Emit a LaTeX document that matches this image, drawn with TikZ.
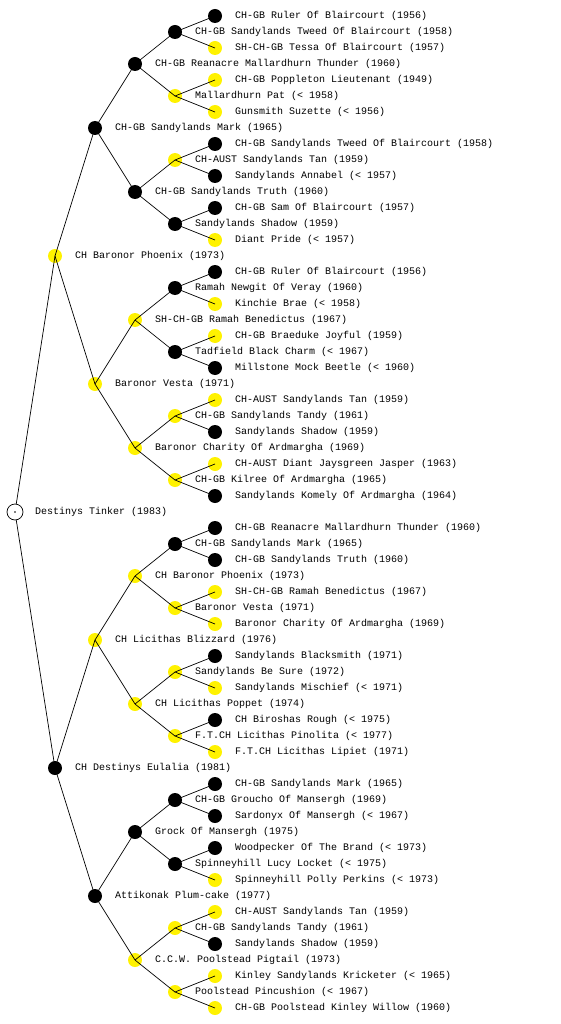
\documentclass[tikz,border=0pt]{standalone}
\usepackage{fontspec}
\newfontfamily\pedfont{Liberation Mono}
\tikzset{
  dot/.style={circle, inner sep=0pt, outer sep=0pt, minimum size=14pt},
  ydot/.style={dot, fill=yellow},
  bdot/.style={dot, fill=black},
  rootdot/.style={dot, draw, fill=white, minimum size=16pt, line width=0.7pt},
  pedtext/.style={anchor=west, inner sep=0pt, font=\pedfont\fontsize{10}{12}\selectfont},
  edge/.style={line width=0.7pt},
}
\begin{document}
\begin{tikzpicture}[x=1pt, y=-1pt]
\useasboundingbox (0,0) rectangle (560,1024);

% root
\node[rootdot] (r) at (15,512) {};
\fill (r.center) circle (0.8pt);
\node[pedtext] (tr) at ([xshift=20pt]r.center) {Destinys Tinker (1983)};

% parents
\foreach \s/\t [count=\i from 0] in {
  ydot/{CH Baronor Phoenix (1973)},
  bdot/{CH Destinys Eulalia (1981)}}{
  \node[\s] (a\i) at (55,{256+512*\i}) {};
  \node[pedtext] (ta\i) at ([xshift=20pt]a\i.center) {\t};
}

% grandparents
\foreach \s/\t [count=\i from 0] in {
  bdot/{CH-GB Sandylands Mark (1965)},
  ydot/{Baronor Vesta (1971)},
  ydot/{CH Licithas Blizzard (1976)},
  bdot/{Attikonak Plum-cake (1977)}}{
  \node[\s] (b\i) at (95,{128+256*\i}) {};
  \node[pedtext] (tb\i) at ([xshift=20pt]b\i.center) {\t};
}

% great-grandparents
\foreach \s/\t [count=\i from 0] in {
  bdot/{CH-GB Reanacre Mallardhurn Thunder (1960)},
  bdot/{CH-GB Sandylands Truth (1960)},
  ydot/{SH-CH-GB Ramah Benedictus (1967)},
  ydot/{Baronor Charity Of Ardmargha (1969)},
  ydot/{CH Baronor Phoenix (1973)},
  ydot/{CH Licithas Poppet (1974)},
  bdot/{Grock Of Mansergh (1975)},
  ydot/{C.C.W. Poolstead Pigtail (1973)}}{
  \node[\s] (c\i) at (135,{64+128*\i}) {};
  \node[pedtext] (tc\i) at ([xshift=20pt]c\i.center) {\t};
}

% generation 4
\foreach \s/\t [count=\i from 0] in {
  bdot/{CH-GB Sandylands Tweed Of Blaircourt (1958)},
  ydot/{Mallardhurn Pat (< 1958)},
  ydot/{CH-AUST Sandylands Tan (1959)},
  bdot/{Sandylands Shadow (1959)},
  bdot/{Ramah Newgit Of Veray (1960)},
  bdot/{Tadfield Black Charm (< 1967)},
  ydot/{CH-GB Sandylands Tandy (1961)},
  ydot/{CH-GB Kilree Of Ardmargha (1965)},
  bdot/{CH-GB Sandylands Mark (1965)},
  ydot/{Baronor Vesta (1971)},
  ydot/{Sandylands Be Sure (1972)},
  ydot/{F.T.CH Licithas Pinolita (< 1977)},
  bdot/{CH-GB Groucho Of Mansergh (1969)},
  bdot/{Spinneyhill Lucy Locket (< 1975)},
  ydot/{CH-GB Sandylands Tandy (1961)},
  ydot/{Poolstead Pincushion (< 1967)}}{
  \node[\s] (d\i) at (175,{32+64*\i}) {};
  \node[pedtext] (td\i) at ([xshift=20pt]d\i.center) {\t};
}

% generation 5
\foreach \s/\t [count=\i from 0] in {
  bdot/{CH-GB Ruler Of Blaircourt (1956)},
  ydot/{SH-CH-GB Tessa Of Blaircourt (1957)},
  ydot/{CH-GB Poppleton Lieutenant (1949)},
  ydot/{Gunsmith Suzette (< 1956)},
  bdot/{CH-GB Sandylands Tweed Of Blaircourt (1958)},
  bdot/{Sandylands Annabel (< 1957)},
  bdot/{CH-GB Sam Of Blaircourt (1957)},
  ydot/{Diant Pride (< 1957)},
  bdot/{CH-GB Ruler Of Blaircourt (1956)},
  ydot/{Kinchie Brae (< 1958)},
  ydot/{CH-GB Braeduke Joyful (1959)},
  bdot/{Millstone Mock Beetle (< 1960)},
  ydot/{CH-AUST Sandylands Tan (1959)},
  bdot/{Sandylands Shadow (1959)},
  ydot/{CH-AUST Diant Jaysgreen Jasper (1963)},
  bdot/{Sandylands Komely Of Ardmargha (1964)},
  bdot/{CH-GB Reanacre Mallardhurn Thunder (1960)},
  bdot/{CH-GB Sandylands Truth (1960)},
  ydot/{SH-CH-GB Ramah Benedictus (1967)},
  ydot/{Baronor Charity Of Ardmargha (1969)},
  bdot/{Sandylands Blacksmith (1971)},
  ydot/{Sandylands Mischief (< 1971)},
  bdot/{CH Biroshas Rough (< 1975)},
  ydot/{F.T.CH Licithas Lipiet (1971)},
  bdot/{CH-GB Sandylands Mark (1965)},
  bdot/{Sardonyx Of Mansergh (< 1967)},
  bdot/{Woodpecker Of The Brand (< 1973)},
  ydot/{Spinneyhill Polly Perkins (< 1973)},
  ydot/{CH-AUST Sandylands Tan (1959)},
  bdot/{Sandylands Shadow (1959)},
  ydot/{Kinley Sandylands Kricketer (< 1965)},
  ydot/{CH-GB Poolstead Kinley Willow (1960)}}{
  \node[\s] (e\i) at (215,{16+32*\i}) {};
  \node[pedtext] (te\i) at ([xshift=20pt]e\i.center) {\t};
}

% lines
\draw[edge] (r) -- (a0.center) (r) -- (a1.center);
\foreach \p/\q/\n in {a/b/1, b/c/3, c/d/7, d/e/15}{
  \foreach \i in {0,...,\n}{
    \pgfmathtruncatemacro\j{2*\i}
    \pgfmathtruncatemacro\k{2*\i+1}
    \draw[edge] (\p\i.center) -- (\q\j.center) (\p\i.center) -- (\q\k.center);
  }
}
\end{tikzpicture}
\end{document}
